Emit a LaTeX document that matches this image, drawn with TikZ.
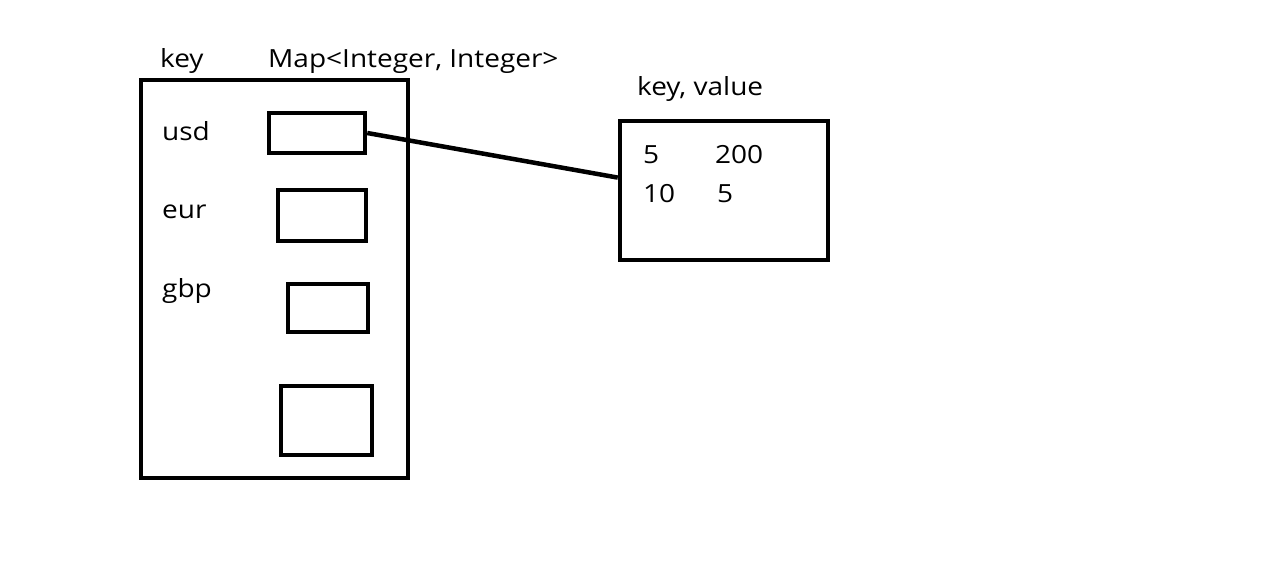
\documentclass[tikz,border=0pt]{standalone}
\usepackage{fontspec}
\setmainfont{Open Sans}[FakeStretch=1.12]
\usetikzlibrary{calc}
\begin{document}
\begin{tikzpicture}[x=1pt,y=-1pt,
  box/.style={draw=black,line width=4.5pt,inner sep=0pt},
  lbl/.style={anchor=base west,inner sep=0pt,font=\fontsize{25}{29}\selectfont}]
\useasboundingbox (0,0) rectangle (1264,584);
\node[box,minimum width=267pt,minimum height=398pt] (map) at (274.5,279) {};
\node[box,minimum width=96pt,minimum height=40pt] (b1) at (317,133) {};
\node[box,minimum width=88pt,minimum height=51pt] (b2) at (322,215.5) {};
\node[box,minimum width=80pt,minimum height=48pt] (b3) at (328,308) {};
\node[box,minimum width=91pt,minimum height=69pt] (b4) at (326.5,420.5) {};
\node[box,minimum width=208pt,minimum height=139pt] (r) at (724,190.5) {};
\draw[line width=4.5pt] (b1.east) -- ($(r.north west)!0.41!(r.south west)$);
\node[lbl] (tkey) at (160,67) {key};
\node[lbl] (tmap) at (268,67) {Map<Integer, Integer>};
\node[lbl] (tusd) at (162,140) {usd};
\node[lbl] (teur) at (162,218) {eur};
\node[lbl] (tgbp) at (162,297) {gbp};
\node[lbl] (tkv) at (637,95) {key, value};
\node[lbl] (k1) at (643,163) {5};
\node[lbl] (v1) at (715,163) {200};
\node[lbl] (k2) at (643,202) {10};
\node[lbl] (v2) at (717,202) {5};
\end{tikzpicture}
\end{document}
